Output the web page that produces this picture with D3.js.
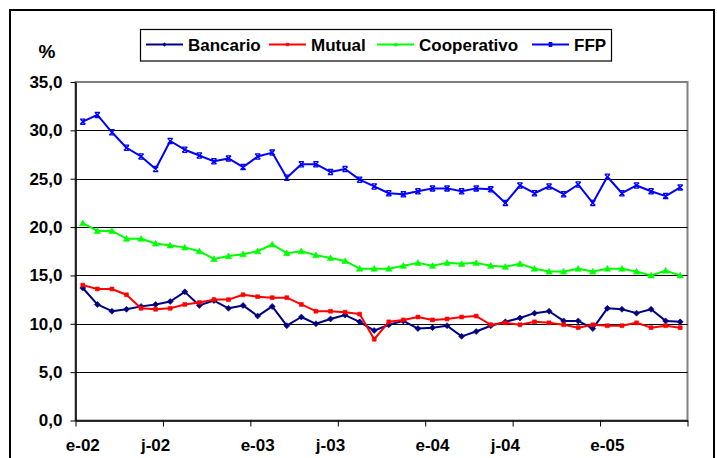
<!DOCTYPE html>
<html>
<head>
<meta charset="utf-8">
<script src="https://cdn.jsdelivr.net/npm/d3@7/dist/d3.min.js"></script>
<style>
  body { margin: 0; background: #fff; }
  text { font-family: "Liberation Sans", Arial, sans-serif; font-weight: bold; fill: #000; }
</style>
</head>
<body>
<svg id="chart" width="717" height="458"></svg>
<script>
// Monthly categories, January 2002 to June 2005 (Spanish month initials)
const monthInitials = ["e","f","m","a","m","j","j","a","s","o","n","d"];
const categories = d3.range(42).map(i => monthInitials[i % 12] + "-0" + (2 + Math.floor(i / 12)));

// Category labels shown on the x axis (every six months)
const xTickLabels = ["e-02","j-02","e-03","j-03","e-04","j-04","e-05"];
const yTickValues = [0, 5, 10, 15, 20, 25, 30, 35];

const bancario = [13.7, 12.0, 11.3, 11.5, 11.8, 12.0, 12.3, 13.3, 11.9, 12.4, 11.6, 11.9,
                  10.8, 11.8, 9.8, 10.7, 10.0, 10.5, 10.9, 10.2, 9.3, 9.9, 10.3, 9.5,
                  9.6, 9.8, 8.7, 9.2, 9.8, 10.2, 10.6, 11.1, 11.3, 10.3, 10.3, 9.5,
                  11.6, 11.5, 11.1, 11.5, 10.3, 10.2];
const mutual = [14.0, 13.6, 13.6, 13.0, 11.6, 11.5, 11.6, 12.0, 12.2, 12.5, 12.5, 13.0,
                12.8, 12.7, 12.7, 12.0, 11.3, 11.3, 11.2, 11.0, 8.4, 10.2, 10.4, 10.7,
                10.4, 10.5, 10.7, 10.8, 9.9, 10.1, 9.9, 10.2, 10.1, 9.9, 9.6, 9.9,
                9.8, 9.8, 10.1, 9.6, 9.8, 9.6];
const cooperativo = [20.4, 19.6, 19.6, 18.8, 18.8, 18.3, 18.1, 17.9, 17.5, 16.7, 17.0, 17.2,
                     17.5, 18.2, 17.3, 17.5, 17.1, 16.8, 16.5, 15.7, 15.7, 15.7, 16.0, 16.3,
                     16.0, 16.3, 16.2, 16.3, 16.0, 15.9, 16.2, 15.7, 15.4, 15.4, 15.7, 15.4,
                     15.7, 15.7, 15.4, 15.0, 15.5, 15.0];
const ffp = [30.9, 31.6, 29.8, 28.2, 27.3, 26.0, 28.9, 28.0, 27.4, 26.8, 27.1, 26.2,
             27.3, 27.7, 25.1, 26.5, 26.5, 25.7, 26.0, 24.9, 24.2, 23.5, 23.4, 23.7,
             24.0, 24.0, 23.7, 24.0, 23.9, 22.5, 24.3, 23.5, 24.2, 23.4, 24.4, 22.5,
             25.2, 23.5, 24.3, 23.7, 23.2, 24.1];

const seriesNames = ["Bancario", "Mutual", "Cooperativo", "FFP"];
const seriesColors = ["#000080", "#ff0000", "#00ff00", "#0000ff"];
const seriesMarkers = ["diamond", "square", "triangle", "cross"];
const seriesValues = [bancario, mutual, cooperativo, ffp];

const series = seriesNames.map((name, k) => ({
  name, color: seriesColors[k], marker: seriesMarkers[k], values: seriesValues[k]
}));

const svg = d3.select("#chart");
const plot = { left: 75.5, right: 687.5, top: 82, bottom: 420.5 };
const labelFont = 17;

// Category axis: one band per month, points at band centres
const x = d3.scaleLinear().domain([0, categories.length]).range([plot.left, plot.right]);
const xc = i => x(i + 0.5);
const y = d3.scaleLinear().domain([0, 35]).range([plot.bottom, plot.top]);

const esLocale = d3.formatLocale({ decimal: ",", thousands: ".", grouping: [3], currency: ["", ""] });
const fmt = esLocale.format(".1f");

// Outer chart frame
svg.append("rect")
  .attr("x", 10).attr("y", 10).attr("width", 704).attr("height", 470)
  .attr("fill", "#fff").attr("stroke", "#000").attr("stroke-width", 2);

// Plot area frame (top and right edges in grey)
svg.append("rect")
  .attr("x", plot.left).attr("y", plot.top)
  .attr("width", plot.right - plot.left).attr("height", plot.bottom - plot.top)
  .attr("fill", "#fff").attr("stroke", "#808080").attr("stroke-width", 2);

// Horizontal gridlines
svg.append("g").selectAll("line")
  .data(yTickValues.filter(v => v > 0 && v < 35))
  .join("line")
  .attr("x1", plot.left).attr("x2", plot.right)
  .attr("y1", d => Math.round(y(d)) + 0.5).attr("y2", d => Math.round(y(d)) + 0.5)
  .attr("stroke", "#000").attr("stroke-width", 1);

// Y axis
const yAxis = svg.append("g")
  .attr("transform", `translate(${plot.left},0)`)
  .call(d3.axisLeft(y).tickValues(yTickValues).tickFormat(fmt).tickSize(5).tickSizeOuter(0).tickPadding(8));
yAxis.select(".domain").attr("stroke", "#000").attr("stroke-width", 1.5);
yAxis.selectAll(".tick line").attr("stroke", "#000");
yAxis.selectAll(".tick text")
  .attr("font-size", labelFont).attr("font-family", "'Liberation Sans', Arial, sans-serif")
  .attr("font-weight", "bold").attr("fill", "#000");

// X axis: tick marks between half-year blocks
const xAxis = svg.append("g")
  .attr("transform", `translate(0,${plot.bottom})`)
  .call(d3.axisBottom(x).tickValues(d3.range(0, categories.length + 1, 6)).tickFormat("").tickSize(6).tickSizeOuter(0));
xAxis.select(".domain").attr("stroke", "#000").attr("stroke-width", 1.5);
xAxis.selectAll(".tick line").attr("stroke", "#000");

// X category labels centred on the first month of each block
svg.append("g").selectAll("text")
  .data(xTickLabels)
  .join("text")
  .attr("x", d => xc(categories.indexOf(d)))
  .attr("y", 451)
  .attr("text-anchor", "middle")
  .attr("font-size", labelFont)
  .text(d => d);

// "%" unit label
svg.append("text").attr("x", 47).attr("y", 58).attr("text-anchor", "middle")
  .attr("font-size", 19).text("%");

// Marker shapes
function markerPath(type, r) {
  switch (type) {
    case "diamond": return `M0,${-r}L${r},0L0,${r}L${-r},0Z`;
    case "square": return `M${-r * 0.75},${-r * 0.75}H${r * 0.75}V${r * 0.75}H${-r * 0.75}Z`;
    case "triangle": return `M0,${-r}L${r},${r * 0.8}H${-r}Z`;
    case "cross": return `M${-r},${-r}L${r},${r}M${-r},${r}L${r},${-r}M${-r},${-r}H${r}M${-r},${r}H${r}`;
  }
}
function drawMarker(g, type, color, r) {
  const filled = type !== "cross";
  g.append("path").attr("d", markerPath(type, r))
    .attr("fill", filled ? color : "none")
    .attr("stroke", color).attr("stroke-width", filled ? 0.6 : 1.3);
}

const markerSize = { diamond: 3, square: 2.6, triangle: 3.2, cross: 2.6 };
const line = d3.line().x((d, i) => xc(i)).y(d => y(d));

series.forEach(s => {
  const g = svg.append("g");
  g.append("path").datum(s.values)
    .attr("d", line).attr("fill", "none")
    .attr("stroke", s.color).attr("stroke-width", 2).attr("stroke-linejoin", "round");
  g.selectAll("g.pt").data(s.values).join("g").attr("class", "pt")
    .attr("transform", (d, i) => `translate(${xc(i)},${y(d)})`)
    .each(function () { drawMarker(d3.select(this), s.marker, s.color, markerSize[s.marker]); });
});

// Legend
const legend = svg.append("g");
legend.append("rect").attr("x", 140.5).attr("y", 29.5).attr("width", 471).attr("height", 31.5)
  .attr("fill", "#fff").attr("stroke", "#000").attr("stroke-width", 1.2);
const legendLineStart = [146, 269, 377, 532];
series.forEach((s, k) => {
  const x0 = legendLineStart[k];
  const item = legend.append("g");
  item.append("line").attr("x1", x0).attr("x2", x0 + 37).attr("y1", 44.5).attr("y2", 44.5)
    .attr("stroke", s.color).attr("stroke-width", 2);
  const m = item.append("g").attr("transform", `translate(${x0 + 18.5},44.5)`);
  drawMarker(m, s.marker, s.color, 1.8);
  item.append("text").attr("x", x0 + 42).attr("y", 50.5).attr("font-size", labelFont).text(s.name);
});
</script>
</body>
</html>
